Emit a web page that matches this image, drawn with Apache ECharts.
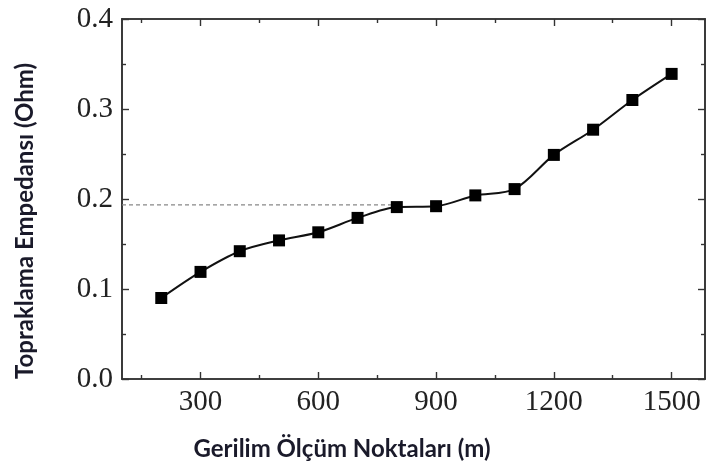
<!DOCTYPE html>
<html>
<head>
<meta charset="utf-8">
<script src="https://cdn.jsdelivr.net/npm/echarts@6/dist/echarts.min.js"></script>
<style>
html,body{margin:0;padding:0;background:#fff;}
#chart{width:709px;height:468px;}
</style>
</head>
<body>
<div id="chart"></div>
<script>
// Data
var distances = [200, 300, 400, 500, 600, 700, 800, 900, 1000, 1100, 1200, 1300, 1400, 1500];
var impedance = [0.090, 0.119, 0.142, 0.154, 0.163, 0.179, 0.191, 0.192, 0.204, 0.211, 0.249, 0.277, 0.310, 0.339];
var refLineX = [100, 800];
var refLineY = [0.1935, 0.1935];
var xMajorTicks = [300, 600, 900, 1200, 1500];
var xMinorTicks = [150, 450, 750, 1050, 1350];
var yMajorTicks = [0.0, 0.1, 0.2, 0.3, 0.4];
var yMinorTicks = [0.05, 0.15, 0.25, 0.35];
var xTitle = 'Gerilim Ölçüm Noktaları (m)';
var yTitle = 'Topraklama Empedansı (Ohm)';

var X_MIN = 100, X_MAX = 1585, Y_MIN = 0, Y_MAX = 0.4;
var axisColor = '#333';
var labelFont = {fontFamily: '"Liberation Serif", "Times New Roman", serif', fontSize: 29, color: '#222'};

function xAx(pos, ticks, len, labels) {
  return {
    type: 'value', position: pos, min: X_MIN, max: X_MAX,
    axisLine: {show: true, onZero: false, lineStyle: {color: axisColor, width: 1.6}},
    axisTick: {show: true, inside: true, length: len, customValues: ticks, lineStyle: {color: axisColor, width: 1.4}},
    axisLabel: labels ? Object.assign({show: true, margin: 9, customValues: ticks, formatter: function (v) { return String(v); }}, labelFont) : {show: false},
    splitLine: {show: false}
  };
}
function yAx(pos, ticks, len, labels) {
  return {
    type: 'value', position: pos, min: Y_MIN, max: Y_MAX,
    axisLine: {show: true, onZero: false, lineStyle: {color: axisColor, width: 1.6}},
    axisTick: {show: true, inside: true, length: len, customValues: ticks, lineStyle: {color: axisColor, width: 1.4}},
    axisLabel: labels ? Object.assign({show: true, margin: 9, customValues: ticks, formatter: function (v) { return v.toFixed(1); }}, labelFont) : {show: false},
    splitLine: {show: false}
  };
}

var chart = echarts.init(document.getElementById('chart'), null, {renderer: 'canvas'});
var option = {
  animation: false,
  backgroundColor: '#fff',
  grid: {left: 122, right: 4, top: 19, bottom: 89, containLabel: false, outerBoundsMode: 'none'},
  xAxis: [
    xAx('bottom', xMajorTicks, 7, true),
    xAx('bottom', xMinorTicks, 4, false),
    xAx('top', xMajorTicks, 7, false),
    xAx('top', xMinorTicks, 4, false)
  ],
  yAxis: [
    yAx('left', yMajorTicks, 7, true),
    yAx('left', yMinorTicks, 4, false),
    yAx('right', yMajorTicks, 7, false),
    yAx('right', yMinorTicks, 4, false)
  ],
  series: [
    {
      type: 'line',
      xAxisIndex: 0, yAxisIndex: 0,
      data: refLineX.map(function (x, i) { return [x, refLineY[i]]; }),
      symbol: 'none',
      lineStyle: {color: '#888', width: 1.2, type: [4, 3]},
      z: 1
    },
    {
      type: 'line',
      xAxisIndex: 0, yAxisIndex: 0,
      data: distances.map(function (x, i) { return [x, impedance[i]]; }),
      smooth: 0.3,
      symbol: 'rect',
      symbolSize: 12,
      itemStyle: {color: '#000'},
      lineStyle: {color: '#111', width: 2},
      z: 3
    }
  ],
  graphic: [
    {
      type: 'text', x: 342, y: 449,
      style: {text: xTitle, font: 'bold 24px Lato, "Open Sans", sans-serif', fill: '#1a1a2a', textAlign: 'center', textVerticalAlign: 'middle'}
    },
    {
      type: 'text', x: 25, y: 221, rotation: Math.PI / 2,
      style: {text: yTitle, font: 'bold 24px Lato, "Open Sans", sans-serif', fill: '#1a1a2a', textAlign: 'center', textVerticalAlign: 'middle'}
    }
  ]
};
chart.setOption(option);
</script>
</body>
</html>
